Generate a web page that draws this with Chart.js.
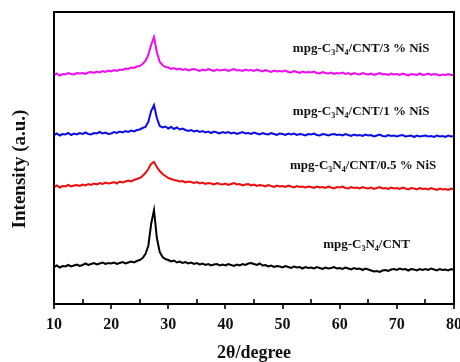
<!DOCTYPE html>
<html>
<head>
<meta charset="utf-8">
<script src="https://cdn.jsdelivr.net/npm/chart.js@4.4.1/dist/chart.umd.min.js"></script>
<style>
  html, body { margin: 0; padding: 0; background: #fff; }
  #wrap { width: 460px; height: 362px; position: relative; }
</style>
</head>
<body>
<div id="wrap"><canvas id="xrd"></canvas></div>
<script>
// 2θ sampling grid (degrees)
const angles = [
  10, 10.5, 11, 11.5, 12, 12.5, 13, 13.5, 14, 14.5,
  15, 15.5, 16, 16.5, 17, 17.5, 18, 18.5, 19, 19.5,
  20, 20.5, 21, 21.5, 22, 22.5, 23, 23.5, 24, 24.5,
  25, 25.5, 26, 26.5, 27, 27.5, 28, 28.5, 29, 29.5,
  30, 30.5, 31, 31.5, 32, 32.5, 33, 33.5, 34, 34.5,
  35, 35.5, 36, 36.5, 37, 37.5, 38, 38.5, 39, 39.5,
  40, 40.5, 41, 41.5, 42, 42.5, 43, 43.5, 44, 44.5,
  45, 45.5, 46, 46.5, 47, 47.5, 48, 48.5, 49, 49.5,
  50, 50.5, 51, 51.5, 52, 52.5, 53, 53.5, 54, 54.5,
  55, 55.5, 56, 56.5, 57, 57.5, 58, 58.5, 59, 59.5,
  60, 60.5, 61, 61.5, 62, 62.5, 63, 63.5, 64, 64.5,
  65, 65.5, 66, 66.5, 67, 67.5, 68, 68.5, 69, 69.5,
  70, 70.5, 71, 71.5, 72, 72.5, 73, 73.5, 74, 74.5,
  75, 75.5, 76, 76.5, 77, 77.5, 78, 78.5, 79, 79.5,
  80
];

// stacked patterns (offset already included), arbitrary units
const cnt = [
  37, 38.5, 36.5, 38, 37.5, 39, 37.5, 38.5, 39.5, 38,
  39, 40.5, 39, 40, 41, 39.5, 40.5, 41.5, 40, 41,
  40.5, 41.5, 40, 41, 42, 40.5, 41.5, 42.5, 41.5, 43,
  44, 46, 50, 58, 80, 94, 66, 52, 47, 45,
  44, 42.5, 43.5, 41.5, 42.5, 41, 42, 40.5, 41.5, 40,
  41, 39.5, 40.5, 39, 40, 38.5, 39.5, 40, 38.5, 39.5,
  38.5, 40, 39, 38, 39.5, 38.5, 40, 39, 40.5, 41,
  40, 39, 40.5, 38.5, 39, 37.5, 38.5, 37, 38, 37.5,
  36.5, 38, 37, 36, 37.5, 36.5, 37, 35.5, 37, 36,
  36.5, 35.5, 37, 36, 35, 36.5, 35.5, 36, 37, 35.5,
  36, 35, 36.5, 35.5, 34.5, 36, 35, 35.5, 34, 35.5,
  34.5, 33.5, 32.5, 33, 32, 33.5, 34, 33, 34.5, 35,
  34, 35.5, 34.5, 35, 33.5, 35, 34.5, 33.5, 35, 34,
  35, 34, 35.5, 34.5, 33.5, 35, 34, 34.5, 33.5, 35,
  34
];

const nis05 = [
  117, 118.5, 116.5, 118, 117.5, 119, 117.5, 118.5, 119, 118,
  119.5, 118.5, 120, 119, 120.5, 119.5, 121, 120, 121.5, 120.5,
  121, 122, 120.5, 122.5, 121.5, 122.5, 123.5, 122.5, 124, 125,
  126, 128, 131, 135, 140, 142, 137, 133, 130, 128,
  126, 125, 124, 123.5, 122.5, 123, 121.5, 122.5, 122, 121,
  122, 120.5, 121.5, 120, 121, 120.5, 119.5, 121, 120, 119.5,
  120.5, 119, 120, 121, 119.5, 120, 118.5, 119.5, 120, 118.5,
  119.5, 118, 119, 118.5, 117.5, 119, 118, 117, 118.5, 117.5,
  118, 117, 118.5, 117.5, 116.5, 118, 117, 117.5, 116.5, 117.5,
  117, 116, 117.5, 116.5, 117, 116, 117.5, 116.5, 115.5, 117,
  116.5, 117.5, 116, 115.5, 117, 116, 116.5, 115.5, 117, 116,
  115.5, 116.5, 115, 116, 117, 115.5, 116, 115, 116.5, 115.5,
  116, 115, 116.5, 115.5, 114.5, 116, 115.5, 114.5, 116, 115,
  115.5, 114.5, 116, 115, 114, 115.5, 114.5, 115, 114, 115.5,
  114.5
];

const nis1 = [
  169, 170.5, 168.5, 170, 169.5, 171, 169, 170.5, 169.5, 171,
  170, 171.5, 170, 169.5, 171, 170.5, 172, 170.5, 171.5, 170,
  170.5, 172, 171, 172.5, 171.5, 173, 172, 173.5, 172.5, 174,
  174.5, 176, 177, 182, 193, 199, 186, 178, 176.5, 177.5,
  175.5, 177, 175, 176.5, 174.5, 175.5, 174, 173, 174, 172.5,
  173.5, 172, 173, 171.5, 172.5, 171, 172.5, 171.5, 170.5, 172,
  171, 172, 170.5, 171.5, 170, 171, 172, 170.5, 171, 170,
  171.5, 170.5, 169.5, 171, 170, 169.5, 171, 170, 169, 170.5,
  170, 169, 170.5, 169.5, 170.5, 169, 170, 169.5, 168.5, 170,
  169.5, 170.5, 169, 168.5, 170, 169.5, 168.5, 169.5, 170, 169,
  169.5, 168.5, 170, 169, 168, 169.5, 168.5, 169, 168, 169.5,
  168.5, 169, 167.5, 168.5, 169.5, 168, 167.5, 169, 168, 168.5,
  167.5, 168.5, 169, 167.5, 168, 168.5, 167, 168.5, 167.5, 168,
  168.5, 167.5, 168, 167, 168.5, 167.5, 168, 167, 168.5, 167.5,
  168
];

const nis3 = [
  229, 230.5, 228.5, 230, 229.5, 231, 230, 229.5, 231, 230.5,
  231, 230, 231.5, 232, 231, 232.5, 231.5, 233, 232, 233.5,
  232.5, 234, 233, 234.5, 234, 235.5, 235, 236.5, 236, 237.5,
  238, 240, 243, 249, 259, 267, 252, 242, 239, 237,
  236.5, 235, 236, 234.5, 235.5, 234, 235, 233.5, 234.5, 235,
  234, 233, 234.5, 233.5, 235, 234, 233, 234.5, 233.5, 234,
  234.5, 233, 234, 235, 233.5, 234, 233, 234.5, 233.5, 234,
  233, 234.5, 233.5, 232.5, 234, 233, 232, 233.5, 232.5, 233,
  232.5, 233.5, 232, 231.5, 233, 232, 231, 232.5, 231.5, 232,
  231.5, 232.5, 231, 230.5, 232, 231, 230.5, 231.5, 230, 231,
  230.5, 231.5, 230, 231, 229.5, 231, 230, 229.5, 231, 230,
  229.5, 230.5, 229, 230, 231, 229.5, 230, 229, 230.5, 229.5,
  230, 229, 230.5, 229.5, 228.5, 230, 229.5, 229, 230.5, 229,
  229.5, 230.5, 229, 230, 229.5, 228.5, 229.5, 229, 230, 229,
  229
];

const xTicks = [10, 20, 30, 40, 50, 60, 70, 80];
const xMinor = [15, 25, 35, 45, 55, 65, 75];

// sample names, where they sit [2θ, intensity], and colours
const sampleNames = [
  ['mpg-C', '3', 'N', '4', '/CNT/3 % NiS'],
  ['mpg-C', '3', 'N', '4', '/CNT/1 % NiS'],
  ['mpg-C', '3', 'N', '4', '/CNT/0.5 % NiS'],
  ['mpg-C', '3', 'N', '4', '/CNT']
];
const nameAt = [[51.8, 255], [51.8, 192], [51.3, 138], [57.1, 59]];
const colours = ['#f00cf0', '#0c0ce8', '#f00c0c', '#000000'];
const yTitle = 'Intensity (a.u.)';

const SERIF = '"Liberation Serif", "Times New Roman", serif';

function pairs(ys) {
  return angles.map((a, i) => ({ x: a, y: ys[i] }));
}

// frame, tick marks, y title and the in-plot sample names
const framePlugin = {
  id: 'frame',
  afterDraw(chart) {
    const { ctx, chartArea: a, scales } = chart;
    const xs = scales.x, ys = scales.y;
    ctx.save();
    ctx.strokeStyle = '#000';
    ctx.lineWidth = 2;
    ctx.strokeRect(a.left, a.top, a.right - a.left, a.bottom - a.top);

    ctx.lineWidth = 1.6;
    ctx.beginPath();
    xTicks.forEach(v => {
      const px = Math.round(xs.getPixelForValue(v));
      ctx.moveTo(px, a.bottom);
      ctx.lineTo(px, a.bottom + 5);
    });
    xMinor.forEach(v => {
      const px = Math.round(xs.getPixelForValue(v));
      ctx.moveTo(px, a.bottom);
      ctx.lineTo(px, a.bottom - 5);
    });
    ctx.stroke();

    // rotated y title, sits a little below the plot centre
    ctx.save();
    ctx.translate(20, 169);
    ctx.rotate(-Math.PI / 2);
    ctx.font = 'bold 19px ' + SERIF;
    ctx.fillStyle = '#111';
    ctx.textAlign = 'center';
    ctx.textBaseline = 'middle';
    ctx.fillText(yTitle, 0, 0);
    ctx.restore();

    ctx.textBaseline = 'middle';
    sampleNames.forEach((parts, i) => {
      let px = xs.getPixelForValue(nameAt[i][0]);
      const py = ys.getPixelForValue(nameAt[i][1]);
      parts.forEach((p, k) => {
        const sub = k % 2 === 1;
        ctx.font = 'bold ' + (sub ? 8 : 13) + 'px ' + SERIF;
        ctx.fillStyle = '#111';
        ctx.fillText(p, px, sub ? py + 4 : py);
        px += ctx.measureText(p).width;
      });
    });
    ctx.restore();
  }
};

const datasets = [nis3, nis1, nis05, cnt].map((ys, i) => ({
  data: pairs(ys),
  borderColor: colours[i],
  borderWidth: 2,
  pointRadius: 0,
  tension: 0,
  fill: false
}));

new Chart(document.getElementById('xrd'), {
  type: 'line',
  data: { datasets },
  options: {
    responsive: true,
    maintainAspectRatio: false,
    animation: false,
    layout: { padding: { top: 12, right: 6, left: 0, bottom: 0 } },
    plugins: { legend: { display: false }, tooltip: { enabled: false } },
    scales: {
      x: {
        type: 'linear',
        min: 10,
        max: 80,
        // let the last tick label run off the edge
        afterFit: s => { s.height = 58; s.paddingLeft = 0; s.paddingRight = 0; },
        grid: { display: false, drawTicks: false },
        border: { display: false },
        ticks: {
          stepSize: 10,
          padding: 11,
          color: '#111',
          font: { family: SERIF, size: 16, weight: 'bold' }
        },
        title: {
          display: true,
          text: '2θ/degree',
          color: '#111',
          padding: 0,
          font: { family: SERIF, size: 18, weight: 'bold', lineHeight: 1 }
        }
      },
      y: {
        min: 0,
        max: 292,
        afterFit: s => { s.width = 54; },
        grid: { display: false, drawTicks: false },
        border: { display: false },
        ticks: { display: false },
        title: { display: false }
      }
    }
  },
  plugins: [framePlugin]
});
</script>
</body>
</html>
